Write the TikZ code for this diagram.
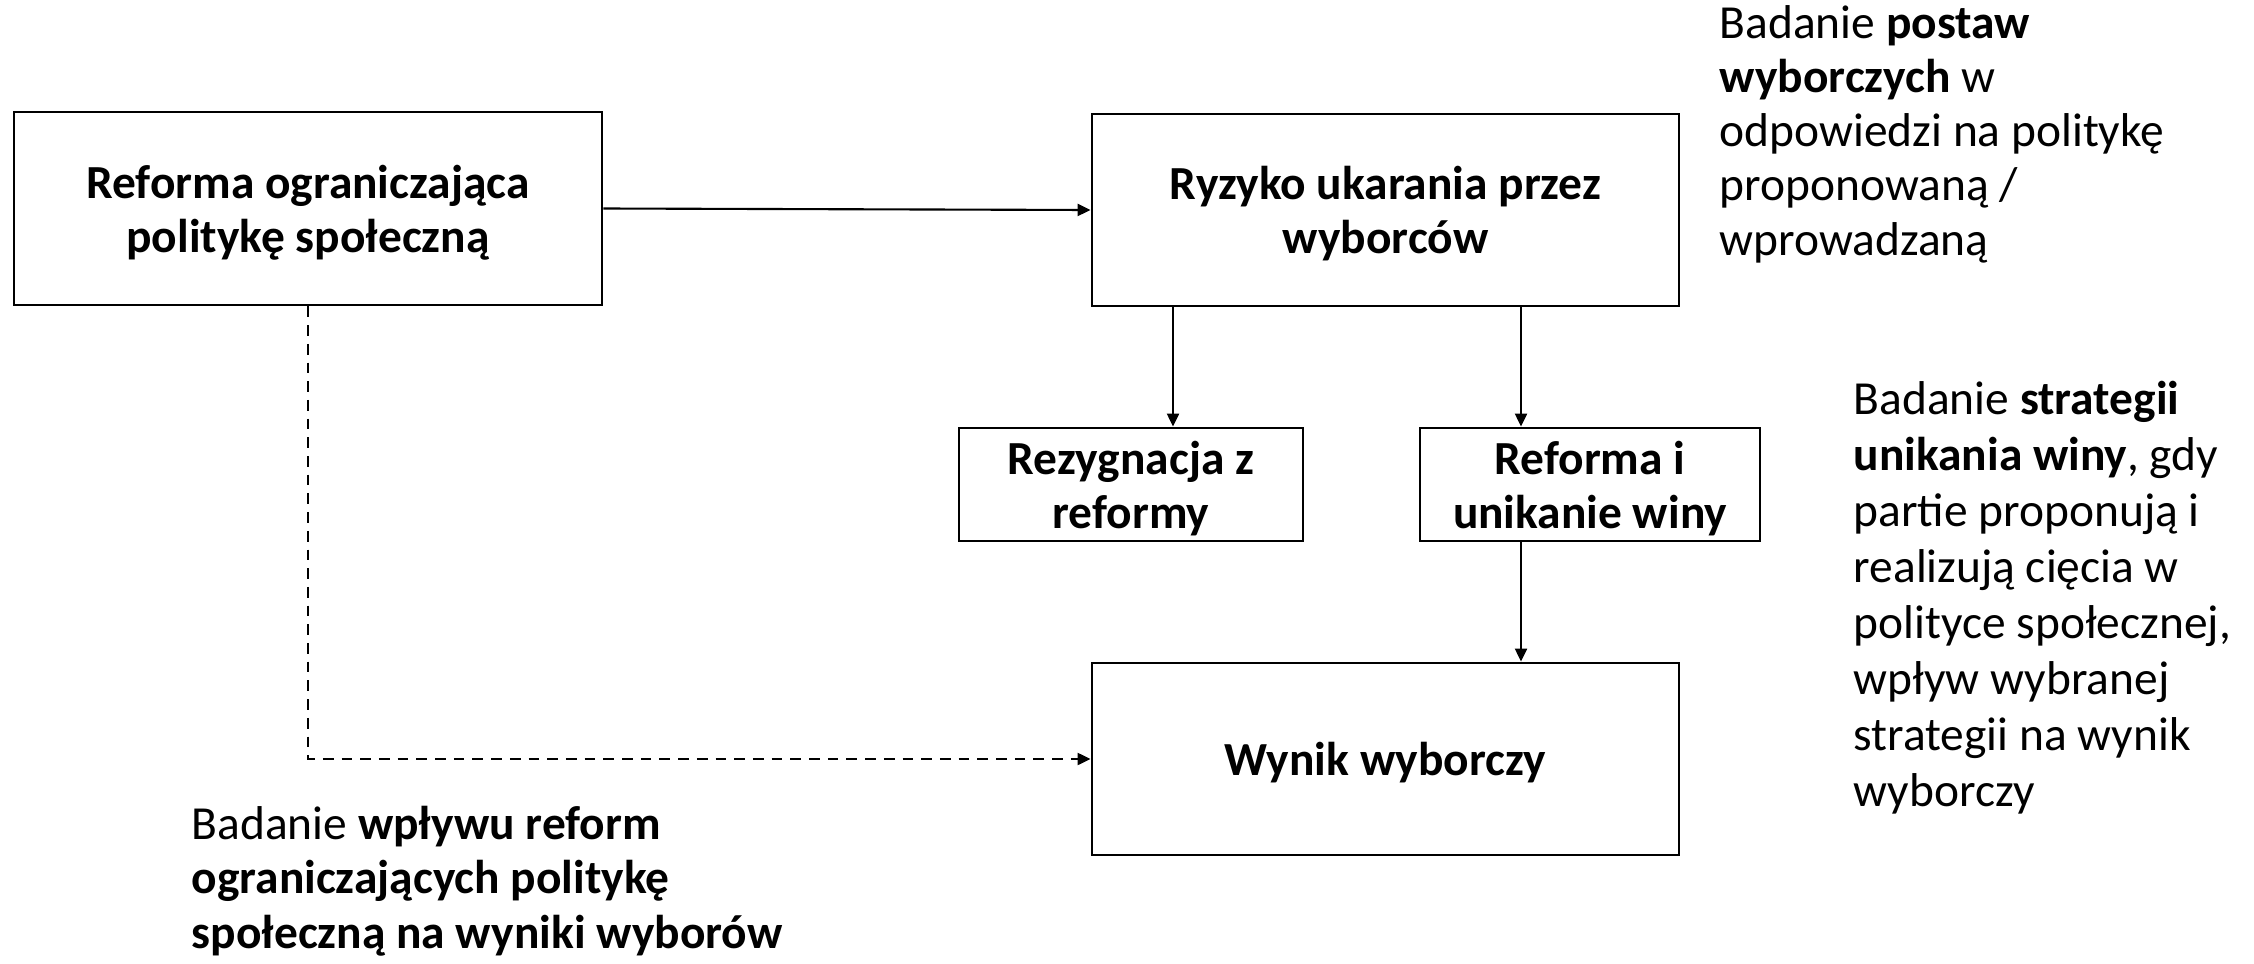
\documentclass[tikz,border=0pt]{standalone}
\usepackage{fontspec}
\setmainfont{Carlito}
\usetikzlibrary{arrows.meta}

\begin{document}
\begin{tikzpicture}
    \useasboundingbox (0,0) rectangle (22.54,-9.64);
    \begin{scope}[every node/.style={draw, thick, align=center, inner sep=0pt, text depth=0pt, font=\fontsize{13.5}{15.4}\selectfont\bfseries}]
        \node[minimum width=5.88cm, minimum height=1.93cm] (reforma) at (3.08,-2.085) {Reforma ograniczająca\\politykę społeczną};
        \node[minimum width=5.87cm, minimum height=1.92cm] (ryzyko) at (13.855,-2.10) {Ryzyko ukarania przez\\wyborców};
        \node[minimum width=3.44cm, minimum height=1.13cm] (rezyg) at (11.31,-4.845) {Rezygnacja z\\reformy};
        \node[minimum width=3.40cm, minimum height=1.13cm] (unik) at (15.90,-4.845) {Reforma i\\unikanie winy};
        \node[minimum width=5.87cm, minimum height=1.92cm] (wynik) at (13.855,-7.59) {Wynik wyborczy};
    \end{scope}
    % texts placed by the baseline of their last line
    \begin{scope}[every node/.style={align=left, inner sep=0pt, anchor=base west, font=\fontsize{13.5}{15.4}\selectfont}]
        \node (postawy) at (17.19,-2.55) {Badanie \textbf{postaw}\\\textbf{wyborczych} w\\odpowiedzi na politykę\\proponowaną /\\wprowadzaną};
        \node[font=\fontsize{13.5}{15.9}\selectfont] (strategie) at (18.53,-8.06) {Badanie \textbf{strategii}\\\textbf{unikania winy}, gdy\\partie proponują i\\realizują cięcia w\\polityce społecznej,\\wpływ wybranej\\strategii na wynik\\wyborczy};
        \node (wplyw) at (1.91,-9.48) {Badanie \textbf{wpływu reform}\\\textbf{ograniczających politykę}\\\textbf{społeczną na wyniki wyborów}};
    \end{scope}
    \coordinate (k1) at (11.73,0);
    \coordinate (k2) at (15.21,0);
    \begin{scope}[every edge/.style={draw, semithick}]
        \path [-{Triangle[length=0.13cm, width=0.12cm]}] (reforma.east) edge (ryzyko.west);
        \path [-{Triangle[length=0.13cm, width=0.12cm]}] (ryzyko.south -| k1) edge (rezyg.north -| k1);
        \path [-{Triangle[length=0.13cm, width=0.12cm]}] (ryzyko.south -| k2) edge (unik.north -| k2);
        \path [-{Triangle[length=0.13cm, width=0.12cm]}] (unik.south -| k2) edge (wynik.north -| k2);
    \end{scope}
    \draw [semithick, dash pattern=on 0.107cm off 0.08cm, -{Triangle[length=0.13cm, width=0.12cm]}] (reforma.south) |- (wynik.west);
\end{tikzpicture}
\end{document}
